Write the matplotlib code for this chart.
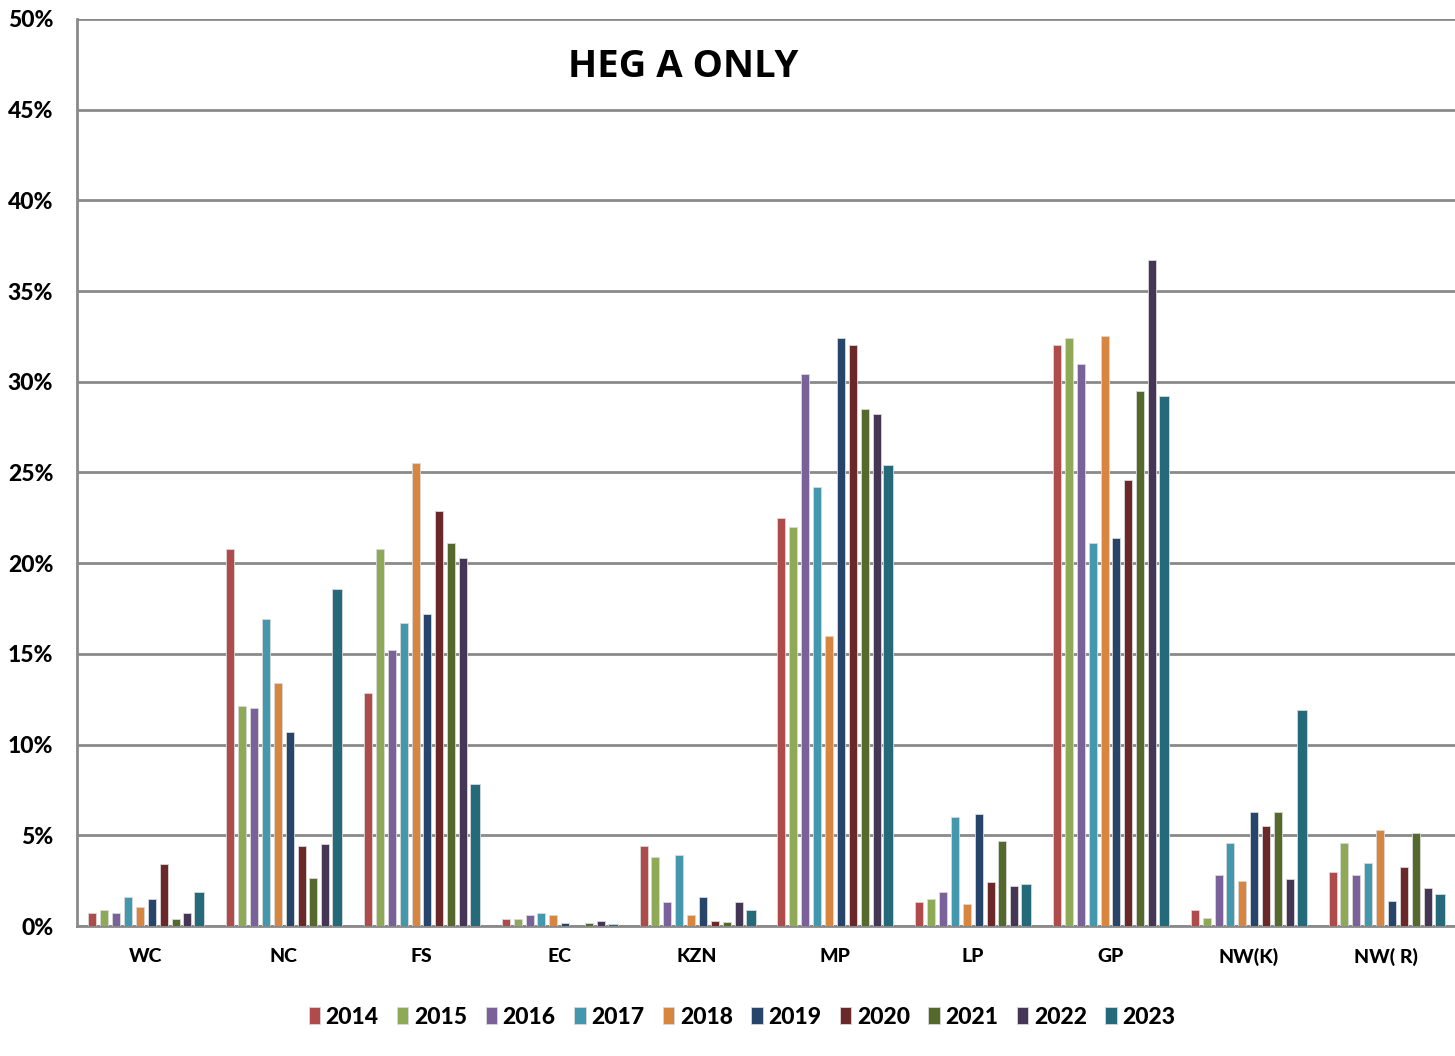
import matplotlib
matplotlib.use("Agg")
import matplotlib.pyplot as plt
import numpy as np
from matplotlib.ticker import FuncFormatter

# regions on the x axis
regions = ["WC", "NC", "FS", "EC", "KZN", "MP", "LP", "GP", "NW(K)", "NW( R)"]
years = ["2014", "2015", "2016", "2017", "2018", "2019", "2020", "2021", "2022", "2023"]

# share (%) per year, one value per region
v2014 = [0.7, 20.8, 12.85, 0.4, 4.4, 22.5, 1.3, 32.0, 0.9, 3.0]
v2015 = [0.9, 12.1, 20.8, 0.4, 3.8, 22.0, 1.5, 32.4, 0.45, 4.6]
v2016 = [0.7, 12.0, 15.2, 0.6, 1.3, 30.4, 1.9, 31.0, 2.8, 2.8]
v2017 = [1.6, 16.9, 16.7, 0.7, 3.9, 24.2, 6.0, 21.1, 4.6, 3.5]
v2018 = [1.05, 13.4, 25.5, 0.6, 0.6, 16.0, 1.2, 32.5, 2.5, 5.3]
v2019 = [1.5, 10.7, 17.2, 0.15, 1.6, 32.4, 6.2, 21.4, 6.3, 1.4]
v2020 = [3.4, 4.4, 22.9, 0.0, 0.3, 32.0, 2.4, 24.6, 5.5, 3.25]
v2021 = [0.4, 2.65, 21.1, 0.15, 0.2, 28.5, 4.7, 29.5, 6.3, 5.1]
v2022 = [0.7, 4.5, 20.3, 0.3, 1.3, 28.2, 2.2, 36.7, 2.6, 2.1]
v2023 = [1.9, 18.6, 7.8, 0.12, 0.9, 25.4, 2.3, 29.2, 11.9, 1.75]

series = [v2014, v2015, v2016, v2017, v2018, v2019, v2020, v2021, v2022, v2023]
colors = ['#B04B4B', '#8FAA57', '#7A619A', '#4398AE', '#D88540',
          '#27446B', '#6B2828', '#55692D', '#463656', '#256A7B']

fig = plt.figure(figsize=(14.55, 10.56), dpi=100)
ax = fig.add_axes([0.0529, 0.1231, 0.9471, 0.859])

x = np.arange(len(regions))
step = 0.0863
for i in range(len(years)):
    off = (i - 4.5) * step
    w = 0.072 if i == 9 else 0.058
    ax.bar(x + off, series[i], width=w, color=colors[i], edgecolor='#d8d8d8',
           linewidth=0.6, label=years[i], zorder=3)

ax.set_xlim(-0.5, 9.5)
ax.set_ylim(0, 50)
ax.set_yticks(np.arange(0, 51, 5))
ax.yaxis.set_major_formatter(FuncFormatter(lambda v, p: "%d%%" % v))
ax.grid(axis='y', color='#8a8a8a', linewidth=2, zorder=0)
ax.set_xticks(x)
ax.set_xticklabels(regions)

for s in ['top', 'right']:
    ax.spines[s].set_visible(False)
for s in ['left', 'bottom']:
    ax.spines[s].set_color('#8a8a8a')
    ax.spines[s].set_linewidth(2)

fam = ['Lato', 'DejaVu Sans']
ax.tick_params(axis='y', length=0, pad=17, labelsize=16.5)
ax.tick_params(axis='x', length=0, pad=16, labelsize=14)
for lab in ax.get_yticklabels() + ax.get_xticklabels():
    lab.set_fontweight(900)
    lab.set_family(fam)

ax.text(0.44, 0.947, "HEG A ONLY", transform=ax.transAxes, ha='center', va='center',
        fontsize=27.5, fontweight='bold', family=['Open Sans', 'DejaVu Sans'])

leg = fig.legend(loc='center', bbox_to_anchor=(742 / 1455, 1 - 1017 / 1056), ncol=10,
                 frameon=False, handlelength=0.5, handleheight=0.8, handletextpad=0.25,
                 columnspacing=0.8, prop={'family': fam, 'weight': 900, 'size': 16.5})

fig.savefig("out.png", dpi=100)
